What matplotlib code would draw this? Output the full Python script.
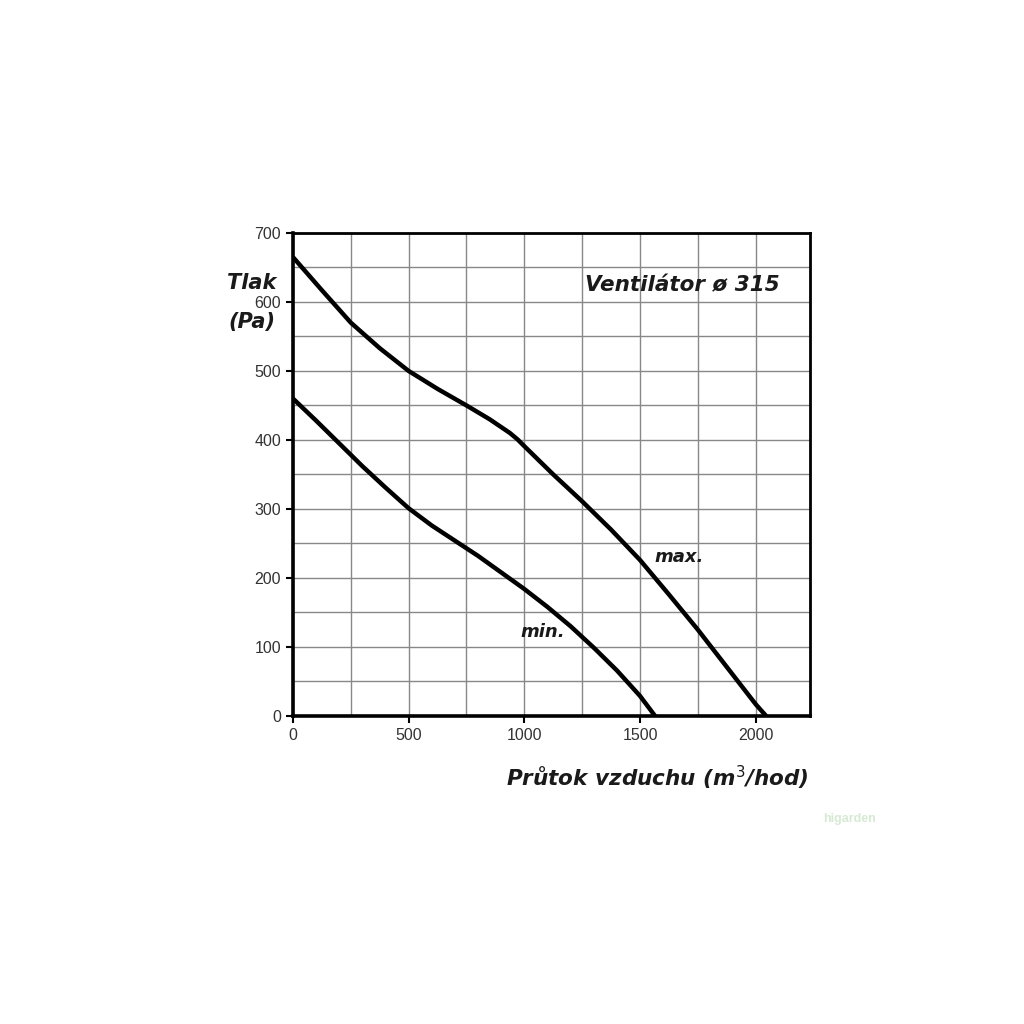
import matplotlib
matplotlib.use("Agg")
from matplotlib import pyplot as plt
from matplotlib.ticker import MultipleLocator

# air flow (m3/hod) vs pressure (Pa)
max_flow = [0, 125, 250, 375, 500, 625, 750, 850, 938, 970, 1000, 1125, 1250, 1375,
            1500, 1625, 1750, 1875, 2000, 2045]
max_pres = [665, 617, 570, 533, 500, 474, 450, 430, 410, 401, 391, 350, 311, 270,
            226, 176, 125, 71, 17, 0]
min_flow = [0, 100, 200, 300, 400, 500, 600, 700, 800, 900, 1000, 1100, 1200, 1300,
            1400, 1500, 1565]
min_pres = [460, 428, 395, 362, 331, 301, 276, 254, 232, 208, 184, 158, 130, 99,
            66, 29, 0]

plt.rcParams['font.family'] = ['Liberation Sans', 'DejaVu Sans']

fig = plt.figure(figsize=(10.24, 10.24), dpi=100)
ax = fig.add_axes([0.2861, 0.3008, 0.505, 0.4717])

ax.plot(max_flow, max_pres, color='black', linewidth=3.2, solid_capstyle='butt', solid_joinstyle='round')
ax.plot(min_flow, min_pres, color='black', linewidth=3.2, solid_capstyle='butt', solid_joinstyle='round')

ax.set_xlim(0, 2235)
ax.set_ylim(0, 700)
ax.xaxis.set_major_locator(MultipleLocator(500))
ax.yaxis.set_major_locator(MultipleLocator(100))
ax.xaxis.set_minor_locator(MultipleLocator(250))
ax.yaxis.set_minor_locator(MultipleLocator(50))
ax.grid(which='both', color='#888888', linewidth=1.0)
ax.set_axisbelow(True)
ax.tick_params(which='major', labelsize=11.5, length=5, width=1.5, colors='black', labelcolor='#333333')
ax.tick_params(which='minor', length=0)
for side in ['left', 'bottom']:
    ax.spines[side].set_linewidth(2.6)
for side in ['top', 'right']:
    ax.spines[side].set_linewidth(2.0)

bold_it = dict(fontweight='bold', fontstyle='italic', color='#1a1a1a', family=['DejaVu Sans'])
fig.text(0.2455, 0.7236, 'Tlak', fontsize=15, ha='center', va='center', **bold_it)
fig.text(0.2455, 0.6855, '(Pa)', fontsize=15, ha='center', va='center', **bold_it)
ax.text(0.754, 0.892, 'Ventilátor ø 315', transform=ax.transAxes, fontsize=15.5, ha='center', va='center', **bold_it)
ax.text(1670, 230, 'max.', fontsize=13, ha='center', va='center', **bold_it)
ax.text(1081, 122, 'min.', fontsize=13, ha='center', va='center', **bold_it)
fig.text(0.6416, 0.24, 'Průtok vzduchu (m$^3$/hod)', fontsize=15.5, ha='center', va='center', **bold_it)
fig.text(0.83, 0.2, 'higarden', fontsize=9, ha='center', va='center', color='#d6ead3', fontweight='bold')

fig.savefig('out.png', dpi=100, facecolor='white')
